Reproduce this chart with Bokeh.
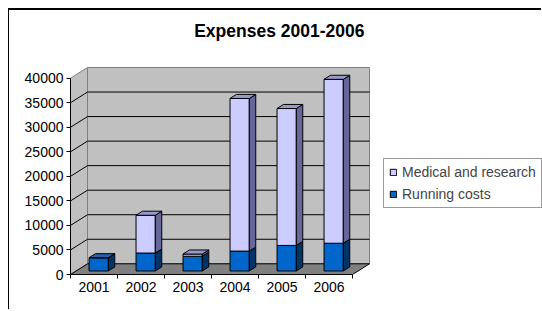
from bokeh.plotting import figure
from bokeh.models import FixedTicker, Legend, LegendItem, Range1d
from bokeh.core.properties import value
from bokeh.embed import file_html
from bokeh.resources import INLINE

# ---- data ----
years = ["2001", "2002", "2003", "2004", "2005", "2006"]
running = [2700, 3650, 3000, 4050, 5200, 5650]
medical = [0, 7700, 450, 31100, 27900, 33400]
y_ticks = [0, 5000, 10000, 15000, 20000, 25000, 30000, 35000, 40000]
title_text = "Expenses 2001-2006"
series_names = ["Medical and research", "Running costs"]

# ---- style / geometry constants ----
FONT = "Liberation Sans"
PX_X = 47.0                 # px per category
PX_Y = 196.3 / 40000.0      # px per value unit
DX = 17.0 / PX_X            # depth offset (x, data units)
DY = 10.7 / PX_Y            # depth offset (y, data units)
F0, FD = 0.33, 0.38         # bar front depth fraction, bar depth fraction
BC, BW = 0.48, 0.41         # bar centre and width within a category

RUN_FRONT, RUN_SIDE, RUN_TOP = "#0066CC", "#003366", "#2A5FA8"
MED_FRONT, MED_SIDE, MED_TOP = "#CCCCFF", "#666699", "#9999CC"
WALL, FLOOR = "#C0C0C0", "#808080"

W, H = 533, 301
ML, MB = 61, 37
n = len(years)
ymax = y_ticks[-1]

p = figure(width=W, height=H, output_backend="svg", toolbar_location=None,
           x_range=Range1d(0, (W - ML) / PX_X), y_range=Range1d(0, (H - MB) / PX_Y),
           min_border_left=ML, min_border_bottom=MB, min_border_top=0, min_border_right=0)
p.styles = {"margin-left": "8px", "margin-top": "8px",
            "border-top": "2px solid black", "border-left": "1px solid black"}
p.outline_line_color = None
p.xgrid.visible = False
p.ygrid.visible = False
p.background_fill_color = "white"
p.border_fill_color = "white"

# walls and floor
p.patch([DX, n + DX, n + DX, DX], [DY, DY, ymax + DY, ymax + DY],
        fill_color=WALL, line_color="#808080", line_width=1)
p.patch([0, DX, DX, 0], [0, DY, ymax + DY, ymax],
        fill_color=WALL, line_color="#808080", line_width=1)
gx = [[0, DX, n + DX] for v in y_ticks[1:-1]]
gy = [[v, v + DY, v + DY] for v in y_ticks[1:-1]]
p.multi_line(gx, gy, line_color="black", line_width=1)
p.patch([0, n, n + DX, DX], [0, 0, DY, DY], fill_color=FLOOR, line_color="black", line_width=1)

# bars
ox, oy = F0 * DX, F0 * DY
bx, by = FD * DX, FD * DY
lefts = [i + BC - BW / 2 + ox for i in range(n)]
rights = [l + BW for l in lefts]

def segment(bottoms, tops, front, side):
    r = p.quad(left=lefts, right=rights, bottom=[b + oy for b in bottoms],
               top=[t + oy for t in tops], fill_color=front, line_color="black", line_width=1)
    xs = [[rr, rr + bx, rr + bx, rr] for rr in rights]
    ys = [[b + oy, b + oy + by, t + oy + by, t + oy] for b, t in zip(bottoms, tops)]
    p.patches(xs, ys, fill_color=side, line_color="black", line_width=1)
    return r

r_run = segment([0] * n, running, RUN_FRONT, RUN_SIDE)
totals = [a + b for a, b in zip(running, medical)]
r_med = segment(running, totals, MED_FRONT, MED_SIDE)

top_xs = [[l, rr, rr + bx, l + bx] for l, rr in zip(lefts, rights)]
top_ys = [[t + oy, t + oy, t + oy + by, t + oy + by] for t in totals]
top_cols = [MED_TOP if m > 0 else RUN_TOP for m in medical]
p.patches(top_xs, top_ys, fill_color=top_cols, line_color="black", line_width=1)

# title
p.text(x=[(278.8 - 70) / PX_X], y=[(274 - 30) / PX_Y], text=[title_text],
       text_font=value(FONT), text_font_size="17.5px", text_font_style="bold",
       text_align="center", text_baseline="middle", text_color="black")

# axes
xa = p.xaxis[0]
xa.ticker = FixedTicker(ticks=[i + 0.5 for i in range(n)], minor_ticks=list(range(n + 1)))
xa.major_label_overrides = {i + 0.5: y for i, y in enumerate(years)}
xa.major_tick_line_color = None
xa.major_tick_out = 4
xa.minor_tick_out = 4
xa.minor_tick_in = 0
xa.minor_tick_line_color = "black"
xa.bounds = (0, n)
xa.axis_line_color = "black"
xa.major_label_standoff = 3
xa.major_label_text_font = FONT
xa.major_label_text_font_size = "14px"
xa.major_label_text_color = "black"

ya = p.yaxis[0]
ya.ticker = FixedTicker(ticks=y_ticks, minor_ticks=[])
ya.major_tick_out = 4
ya.major_tick_in = 0
ya.major_tick_line_color = "black"
ya.bounds = (0, ymax)
ya.axis_line_color = "black"
ya.major_label_standoff = 3
ya.major_label_text_font = FONT
ya.major_label_text_font_size = "14px"
ya.major_label_text_color = "black"

legend = Legend(items=[LegendItem(label=series_names[0], renderers=[r_med]),
                       LegendItem(label=series_names[1], renderers=[r_run])],
                location=(313, 66), glyph_width=8, glyph_height=8, label_height=14,
                spacing=6, padding=5, label_standoff=5,
                label_text_font=FONT, label_text_font_size="14px",
                border_line_color="#333333", border_line_width=1,
                background_fill_color="white", background_fill_alpha=1)
p.add_layout(legend)

open("out.html", "w").write(file_html(p, INLINE))
